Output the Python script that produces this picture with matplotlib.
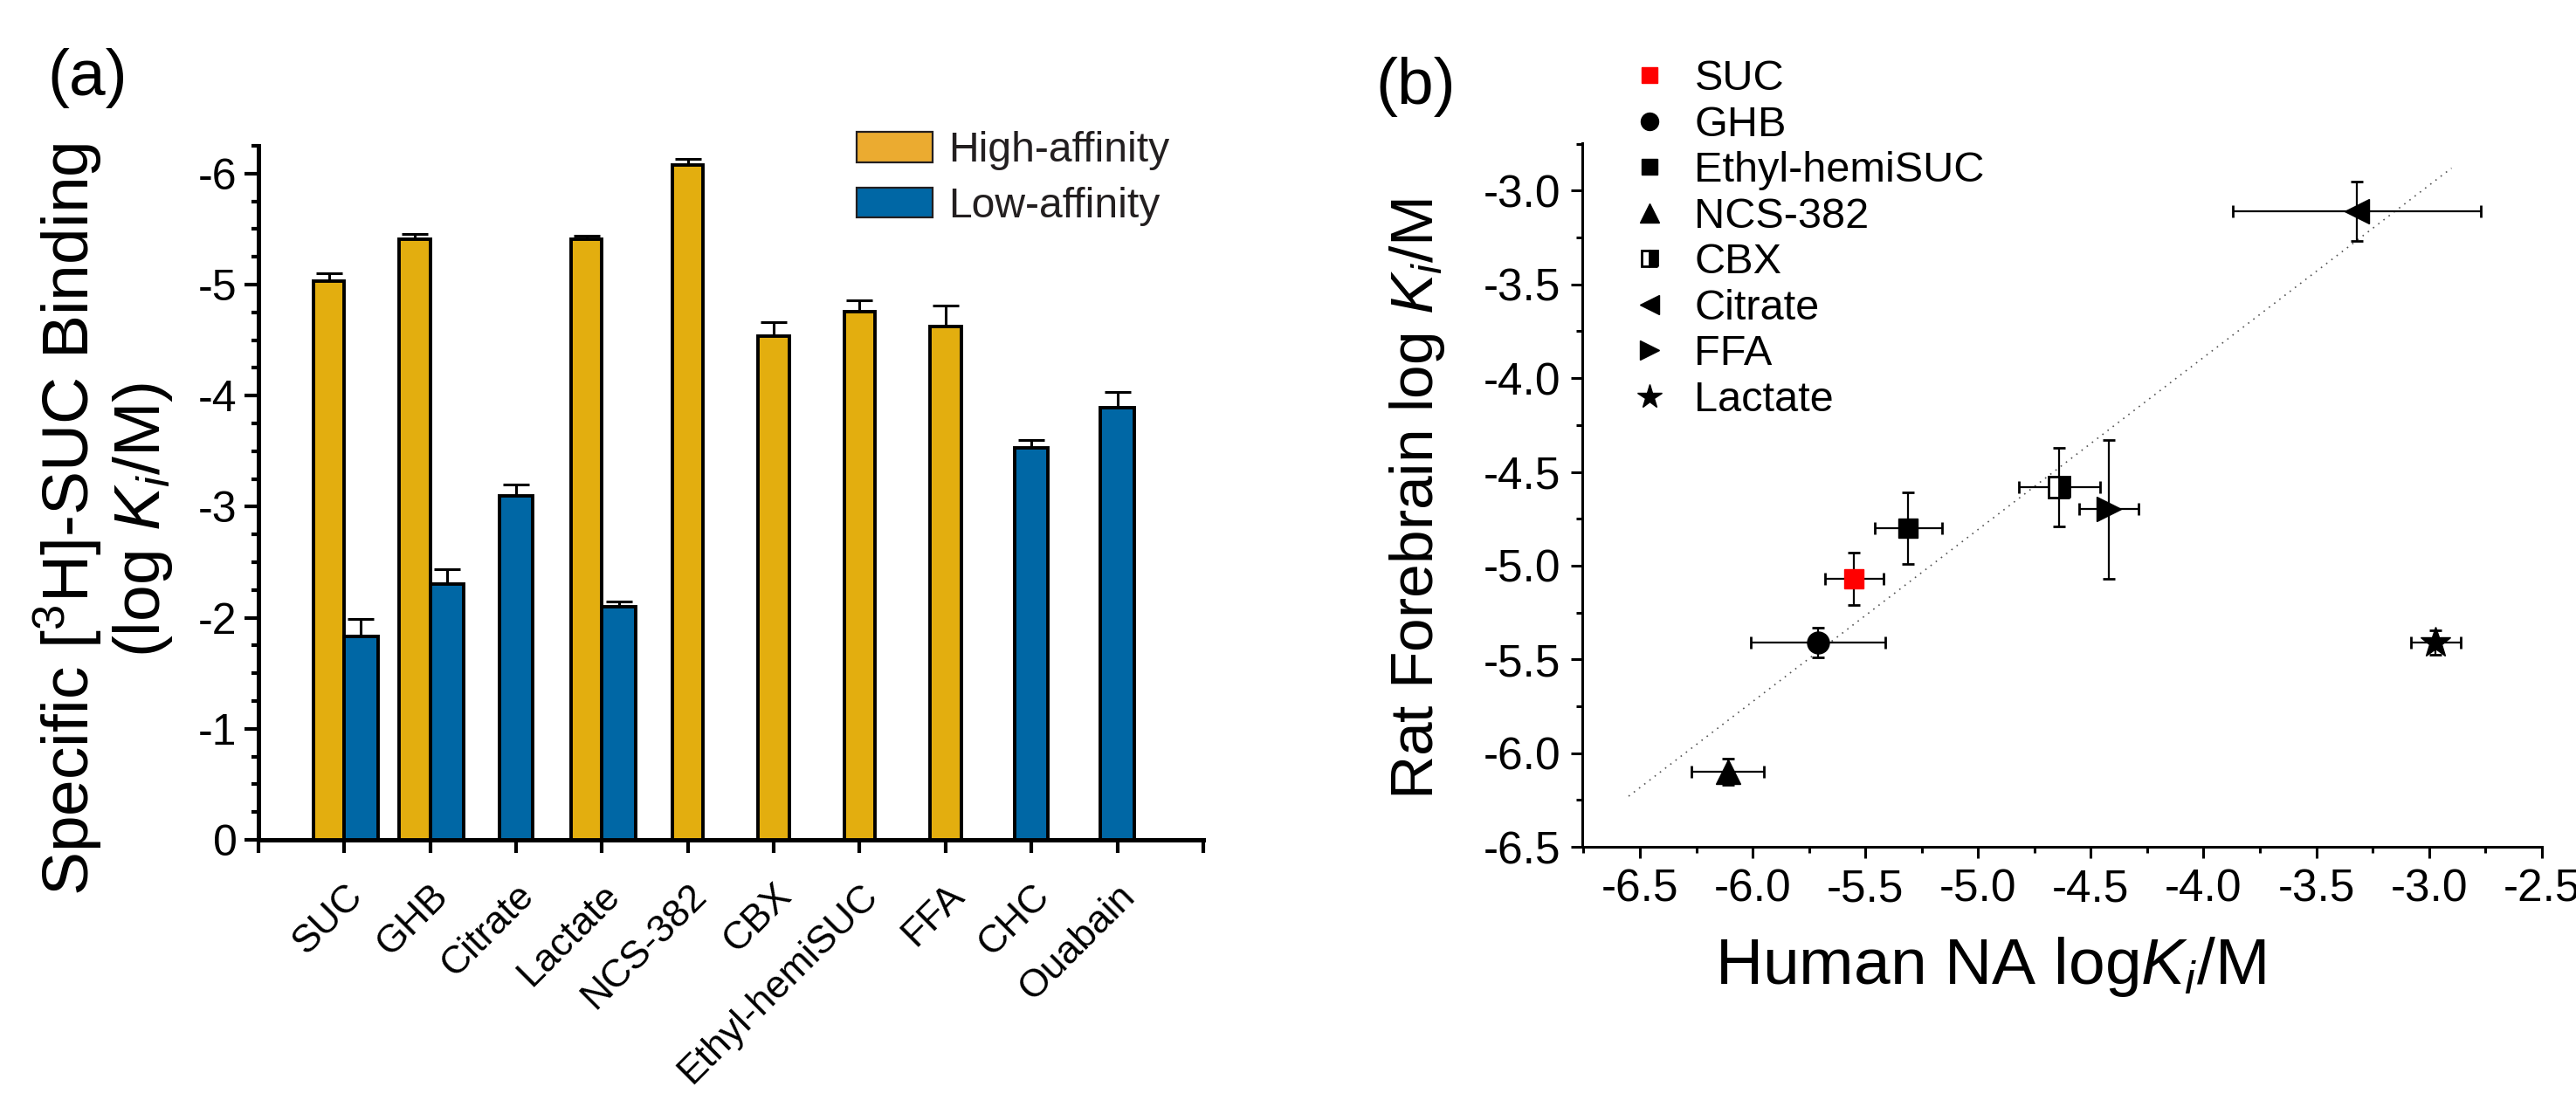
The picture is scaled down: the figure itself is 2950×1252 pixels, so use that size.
import numpy as np
import matplotlib
matplotlib.use("Agg")
import matplotlib.pyplot as plt
from matplotlib.patches import Patch
from matplotlib.lines import Line2D
from matplotlib.ticker import MultipleLocator
from matplotlib.transforms import ScaledTranslation

plt.rcParams['font.family'] = ['Liberation Sans', 'DejaVu Sans']
plt.rcParams['mathtext.fontset'] = 'custom'
plt.rcParams['mathtext.rm'] = 'Liberation Sans'
plt.rcParams['mathtext.it'] = 'Liberation Sans:italic'
plt.rcParams['axes.unicode_minus'] = False

# ---- panel (a) data: log Ki for high / low affinity sites ----
compounds = ['SUC', 'GHB', 'Citrate', 'Lactate', 'NCS-382', 'CBX',
             'Ethyl-hemiSUC', 'FFA', 'CHC', 'Ouabain']
nan = np.nan
high_ki = [-5.03, -5.41, nan, -5.41, -6.08, -4.54, -4.76, -4.62, nan, nan]
high_err = [0.07, 0.05, nan, 0.03, 0.05, 0.12, 0.10, 0.19, nan, nan]
low_ki = [-1.83, -2.30, -3.10, -2.10, nan, nan, nan, nan, -3.53, -3.89]
low_err = [0.16, 0.14, 0.10, 0.05, nan, nan, nan, nan, 0.07, 0.14]

# ---- panel (b) data: human NA vs rat forebrain ----
names_b = ['SUC', 'GHB', 'Ethyl-hemiSUC', 'NCS-382', 'CBX', 'Citrate', 'FFA', 'Lactate']
human_ki = [-5.55, -5.71, -5.31, -6.11, -4.64, -3.32, -4.42, -2.97]
human_err = [0.13, 0.30, 0.15, 0.16, 0.18, 0.55, 0.13, 0.11]
rat_ki = [-5.07, -5.41, -4.80, -6.10, -4.58, -3.11, -4.70, -5.41]
rat_err = [0.14, 0.08, 0.19, 0.07, 0.21, 0.16, 0.37, 0.065]
fit_x = [-6.55, -2.90]
fit_y = [-6.23, -2.88]

HIGH_COL = '#E3AE0F'
LOW_COL = '#0067A5'

fig = plt.figure(figsize=(14.75, 6.26), dpi=200)

# ================= (a) =================
ax = fig.add_axes([0.1003, 0.2316, 0.3668, 0.635])
pos = np.arange(1, len(compounds) + 1)
hw, lw_ = 0.36, 0.39
high = np.array(high_ki)
low = np.array(low_ki)
both = ~np.isnan(high) & ~np.isnan(low)
xh = np.where(both, pos - hw / 2, pos)
xl = np.where(both, pos + lw_ / 2, pos)

ax.bar(xh, high, width=hw, color=HIGH_COL, edgecolor='black', linewidth=1.4, zorder=3)
ax.bar(xl, low, width=lw_, color=LOW_COL, edgecolor='black', linewidth=1.4, zorder=3)
he = np.array(high_err)
le = np.array(low_err)
ax.errorbar(xh, high, yerr=[he, np.zeros_like(he)], fmt='none', ecolor='black',
            elinewidth=1.1, capsize=5.4, capthick=1.1, zorder=2)
ax.errorbar(xl, low, yerr=[le, np.zeros_like(le)], fmt='none', ecolor='black',
            elinewidth=1.1, capsize=5.4, capthick=1.1, zorder=2)

ax.set_xlim(0, len(compounds) + 1)
ax.set_ylim(0, -6.25)
ax.set_xticks(np.arange(0, len(compounds) + 2))
ax.set_xticklabels([''] + compounds + [''], rotation=45, ha='right', va='top',
                   rotation_mode='anchor', fontsize=16)
shift = ScaledTranslation(0.035, 0, fig.dpi_scale_trans)
for lab in ax.get_xticklabels():
    lab.set_transform(lab.get_transform() + shift)
ax.set_yticks([0, -1, -2, -3, -4, -5, -6])
ax.yaxis.set_minor_locator(MultipleLocator(0.25))
ax.tick_params(axis='y', which='major', length=5.7, width=1.5, labelsize=18, pad=3)
ax.tick_params(axis='y', which='minor', length=2.8, width=1.5)
ax.tick_params(axis='x', which='major', length=5.5, width=1.5, pad=10)
for s in ['top', 'right']:
    ax.spines[s].set_visible(False)
for s in ['left', 'bottom']:
    ax.spines[s].set_linewidth(1.8)

leg_a = ax.legend(handles=[Patch(facecolor='#EBAB30', edgecolor='#231F20', linewidth=0.8, label='High-affinity'),
                           Patch(facecolor=LOW_COL, edgecolor='#231F20', linewidth=0.8, label='Low-affinity')],
                  loc='upper left', bbox_to_anchor=(0.3325, 0.8802), bbox_transform=fig.transFigure,
                  frameon=False, fontsize=17.3, handlelength=1.81, handleheight=0.74,
                  handletextpad=0.39, labelspacing=0.39, borderpad=0, borderaxespad=0)
for t in leg_a.get_texts():
    t.set_color('#231F20')

fig.text(118 / 2950, 1 - 595 / 1252, 'Specific [$^3$H]-SUC Binding\n(log $K_i$/M)',
         rotation=90, ha='center', va='center', fontsize=27, multialignment='center',
         linespacing=1.15)
fig.text(100 / 2950, 1 - 89 / 1252, '(a)', ha='center', va='center', fontsize=27)

# ================= (b) =================
bx = fig.add_axes([0.6142, 0.2252, 0.3725, 0.6438])
styles = [
    dict(marker='s', color='#FF0000', mec='#FF0000', ms=8),
    dict(marker='o', color='black', mec='black', ms=9),
    dict(marker='s', color='black', mec='black', ms=8),
    dict(marker='^', color='black', mec='black', ms=10),
    dict(marker='s', color='black', mec='black', ms=8.5, fillstyle='right', mfcalt='white', mew=1.0),
    dict(marker='<', color='black', mec='black', ms=10),
    dict(marker='>', color='black', mec='black', ms=10),
    dict(marker='*', color='black', mec='black', ms=13),
]
bx.plot(fit_x, fit_y, linestyle=(0, (1, 3.5)), color='#555555', linewidth=0.6, zorder=1)
handles = []
for i, name in enumerate(names_b):
    st = styles[i]
    bx.errorbar(human_ki[i], rat_ki[i], xerr=human_err[i], yerr=rat_err[i],
                fmt='none', ecolor='black', elinewidth=0.8, capsize=2.6, capthick=1.0, zorder=2)
    bx.plot(human_ki[i], rat_ki[i], linestyle='none', marker=st['marker'],
            markerfacecolor=st['color'], markeredgecolor=st['mec'], markersize=st['ms'],
            fillstyle=st.get('fillstyle', 'full'), markerfacecoloralt=st.get('mfcalt', 'none'),
            markeredgewidth=st.get('mew', 0.5), zorder=3)
    handles.append(Line2D([], [], linestyle='none', marker=st['marker'],
                          markerfacecolor=st['color'], markeredgecolor=st['mec'],
                          markersize=st['ms'] * 0.8, fillstyle=st.get('fillstyle', 'full'),
                          markerfacecoloralt=st.get('mfcalt', 'none'),
                          markeredgewidth=st.get('mew', 0.5), label=name))

bx.set_xlim(-6.756, -2.5)
bx.set_ylim(-6.5, -2.747)
bx.xaxis.set_major_locator(MultipleLocator(0.5))
bx.xaxis.set_minor_locator(MultipleLocator(0.25))
bx.yaxis.set_major_locator(MultipleLocator(0.5))
bx.yaxis.set_minor_locator(MultipleLocator(0.25))
bx.xaxis.set_major_formatter(plt.FormatStrFormatter('%.1f'))
bx.yaxis.set_major_formatter(plt.FormatStrFormatter('%.1f'))
bx.tick_params(which='major', length=4.8, width=1.1, labelsize=18.5, pad=4)
bx.tick_params(which='minor', length=2.5, width=1.1)
for s in ['top', 'right']:
    bx.spines[s].set_visible(False)
for s in ['left', 'bottom']:
    bx.spines[s].set_linewidth(1.1)

bx.legend(handles=handles, loc='upper left', bbox_to_anchor=(0.6322, 0.9457),
          bbox_transform=fig.transFigure, frameon=False, fontsize=17.5,
          handlelength=1.0, handletextpad=0.55, labelspacing=0.155,
          borderpad=0, borderaxespad=0)

fig.text(1623 / 2950, 1 - 572 / 1252, 'Rat Forebrain log $K_i$/M', rotation=90,
         ha='center', va='center', fontsize=25)
fig.text(2279 / 2950, 1 - 1108 / 1252, 'Human NA log$K_i$/M', ha='center', va='center',
         fontsize=27)
fig.text(1621 / 2950, 1 - 100 / 1252, '(b)', ha='center', va='center', fontsize=27)

fig.savefig('out.png', dpi=200, facecolor='white')
